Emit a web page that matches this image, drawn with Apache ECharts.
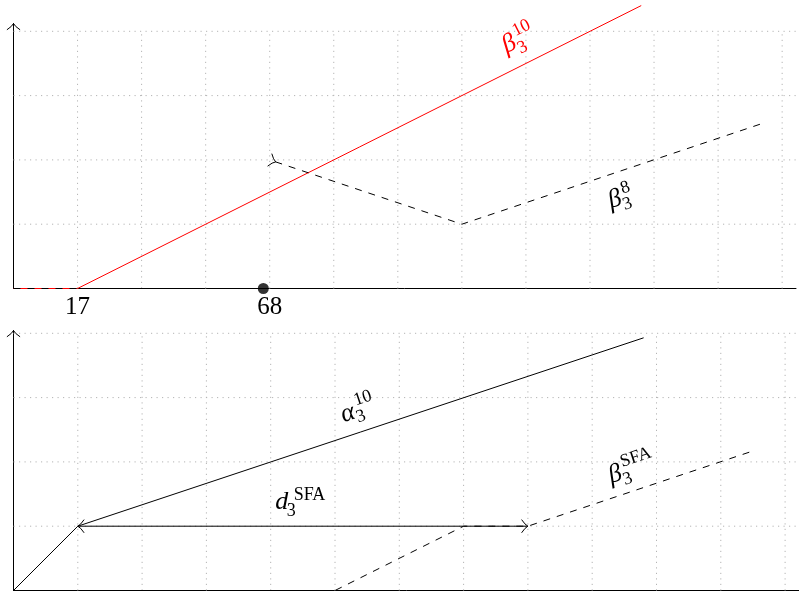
<!DOCTYPE html>
<html>
<head>
<meta charset="utf-8">
<script src="https://cdn.jsdelivr.net/npm/echarts@6/dist/echarts.min.js"></script>
<style>
  html, body { margin: 0; padding: 0; background: #ffffff; }
  #chart { width: 799px; height: 599px; }
</style>
</head>
<body>
<div id="chart"></div>
<script>
// ---- upper panel: threshold curves beta ----
const topTickValues = [1, 4];
const topTickLabels = ['17', '68'];
const beta10 = [[0, 0], [1, 0], [9.8, 4.4]];
const beta8Flat = [[0, 0], [3.9, 0]];
const beta8Rise = [[4, 2], [7, 1], [11.7, 2.57]];
const markerPoint = [[3.9, 0]];

// ---- lower panel: alpha / beta with the SFA gap ----
const alpha10 = [[0, 0], [1, 1], [9.8, 3.93]];
const dSFA = [[1, 1], [8, 1]];
const betaSFA = [[0, 0], [5, 0], [7, 1], [8, 1], [11.5, 2.17]];

// ---- background grid ----
const gridXs = [1, 2, 3, 4, 5, 6, 7, 8, 9, 10, 11, 12];
const gridYs = [1, 2, 3, 4];

// ---- curve names: [letter, superscript, subscript] ----
const nameBeta10 = ['β', '10', '3'];
const nameBeta8 = ['β', '8', '3'];
const nameAlpha10 = ['α', '10', '3'];
const nameDSFA = ['d', 'SFA', '3'];
const nameBetaSFA = ['β', 'SFA', '3'];

// ---- layout ----
const UNIT = 64.3;
const SERIF = '"Liberation Serif", "Times New Roman", serif';
const RED = '#ff0000';
const INK = '#000000';
const GRID_INK = '#b4b4b4';
const topBox = { left: 13.5, right: 0, top: 23.5, height: 265 };
const botBox = { left: 13.5, right: 0, top: 330.5, height: 260 };
const xMax = (799 - 13.5) / UNIT;
const topYMax = topBox.height / UNIT;
const botYMax = botBox.height / UNIT;

// where each name sits (data coords) and which segment it follows
const topNames = [
  { text: nameBeta10, at: [7.74, 3.8], follow: [beta10[1], beta10[2]], color: RED, supDx: 9, subDx: 6, supDy: -9, subDy: 9 },
  { text: nameBeta8, at: [9.39, 1.38], follow: [beta8Rise[1], beta8Rise[2]], color: INK, supDx: 9, subDx: 6, supDy: -8, subDy: 8 }
];
const botNames = [
  { text: nameAlpha10, at: [5.2, 2.75], follow: [alpha10[1], alpha10[2]], color: INK, supDx: 10, subDx: 7, supDy: -10, subDy: 7 },
  { text: nameDSFA, at: [4.17, 1.37], follow: null, color: INK, supDx: 12, subDx: 5, supDy: -7, subDy: 9 },
  { text: nameBetaSFA, at: [9.36, 1.8], follow: [betaSFA[3], betaSFA[4]], color: INK, supDx: 9, subDx: 6, supDy: -10, subDy: 8 }
];

function arrowHead(tip, dir, color) {
  // open "to"-style tip pointing along dir
  const L = 6.3, W = 6.6;
  const bx = -dir[0], by = -dir[1];
  const px = -dir[1], py = dir[0];
  const p1 = [tip[0] + bx * L + px * W, tip[1] + by * L + py * W];
  const p2 = [tip[0] + bx * L - px * W, tip[1] + by * L - py * W];
  const c1 = [tip[0] + bx * L * 0.45 + px * W * 0.2, tip[1] + by * L * 0.45 + py * W * 0.2];
  const c2 = [tip[0] + bx * L * 0.45 - px * W * 0.2, tip[1] + by * L * 0.45 - py * W * 0.2];
  return {
    type: 'path',
    shape: { pathData: `M${p1[0]},${p1[1]} Q${c1[0]},${c1[1]} ${tip[0]},${tip[1]} Q${c2[0]},${c2[1]} ${p2[0]},${p2[1]}` },
    style: { stroke: color, fill: 'none', lineWidth: 1 }
  };
}

function unitDir(api, a, b) {
  const pa = api.coord(a), pb = api.coord(b);
  const dx = pb[0] - pa[0], dy = pb[1] - pa[1];
  const len = Math.hypot(dx, dy);
  return [dx / len, dy / len];
}

function gridRenderer() {
  return function (params, api) {
    const children = [];
    gridXs.forEach(function (x) {
      const a = api.coord([x, 0]), b = api.coord([x, 4]);
      children.push({ type: 'line', shape: { x1: a[0], y1: a[1], x2: b[0], y2: b[1] },
        style: { stroke: GRID_INK, lineWidth: 1, lineDash: [1.2, 4.3] } });
    });
    gridYs.forEach(function (y) {
      const a = api.coord([0, y]), b = api.coord([xMax, y]);
      children.push({ type: 'line', shape: { x1: a[0], y1: a[1], x2: b[0], y2: b[1] },
        style: { stroke: GRID_INK, lineWidth: 1, lineDash: [1.2, 4.3] } });
    });
    return { type: 'group', children: children };
  };
}

function nameElement(api, spec) {
  const p = api.coord(spec.at);
  let rot = 0;
  if (spec.follow) {
    const d = unitDir(api, spec.follow[0], spec.follow[1]);
    rot = Math.atan2(-d[1], d[0]);
  }
  const mainSize = 26, scriptSize = 18;
  return {
    type: 'group', x: p[0], y: p[1], rotation: rot,
    children: [
      { type: 'text', x: 0, y: 0, style: { text: spec.text[0], fill: spec.color, fontSize: mainSize,
        fontFamily: SERIF, fontStyle: 'italic', align: 'center', verticalAlign: 'middle' } },
      { type: 'text', x: spec.supDx, y: spec.supDy, style: { text: spec.text[1], fill: spec.color, fontSize: scriptSize,
        fontFamily: SERIF, align: 'left', verticalAlign: 'middle' } },
      { type: 'text', x: spec.subDx, y: spec.subDy, style: { text: spec.text[2], fill: spec.color, fontSize: scriptSize,
        fontFamily: SERIF, align: 'left', verticalAlign: 'middle' } }
    ]
  };
}

function topDecor(params, api) {
  const children = [];
  children.push(arrowHead(api.coord([0, topYMax]), [0, -1], INK));
  // reversed tip at the start of the rising beta8 branch
  const d = unitDir(api, beta8Rise[0], beta8Rise[1]);
  const s = api.coord(beta8Rise[0]);
  children.push(arrowHead([s[0] + d[0] * 6.3, s[1] + d[1] * 6.3], d, INK));
  topNames.forEach(function (n) { children.push(nameElement(api, n)); });
  return { type: 'group', children: children };
}

function botDecor(params, api) {
  const children = [];
  children.push(arrowHead(api.coord([0, botYMax]), [0, -1], INK));
  children.push(arrowHead(api.coord(dSFA[0]), unitDir(api, dSFA[1], dSFA[0]), INK));
  children.push(arrowHead(api.coord(dSFA[1]), unitDir(api, dSFA[0], dSFA[1]), INK));
  botNames.forEach(function (n) { children.push(nameElement(api, n)); });
  return { type: 'group', children: children };
}

function lineSeries(data, axis, color, dashed, z, dashOffset) {
  return {
    type: 'line', xAxisIndex: axis, yAxisIndex: axis, data: data,
    symbol: 'none', showSymbol: false, silent: true, z: z, clip: false,
    lineStyle: { color: color, width: 1, type: dashed ? [7, 7] : 'solid', dashOffset: dashOffset || 0, cap: 'butt' }
  };
}

const axisCommon = {
  type: 'value', min: 0, interval: 1,
  axisTick: { show: false }, splitLine: { show: false },
  axisLine: { show: true, onZero: false, lineStyle: { color: INK, width: 1 } }
};

const option = {
  animation: false,
  backgroundColor: '#ffffff',
  grid: [
    { left: topBox.left, right: topBox.right, top: topBox.top, height: topBox.height },
    { left: botBox.left, right: botBox.right, top: botBox.top, height: botBox.height }
  ],
  xAxis: [
    Object.assign({}, axisCommon, { gridIndex: 0, max: xMax,
      axisLabel: { show: true, margin: 6, color: INK, fontSize: 25, fontFamily: SERIF,
        showMinLabel: true, showMaxLabel: true,
        formatter: function (v) {
          const i = topTickValues.findIndex(function (t) { return Math.abs(t - v) < 1e-6; });
          return i >= 0 ? topTickLabels[i] : '';
        } } }),
    Object.assign({}, axisCommon, { gridIndex: 1, max: xMax, axisLabel: { show: false } })
  ],
  yAxis: [
    Object.assign({}, axisCommon, { gridIndex: 0, max: topYMax, axisLabel: { show: false } }),
    Object.assign({}, axisCommon, { gridIndex: 1, max: botYMax, axisLabel: { show: false } })
  ],
  series: [
    { type: 'custom', xAxisIndex: 0, yAxisIndex: 0, data: [[0, 0]], z: 1, silent: true, renderItem: gridRenderer() },
    lineSeries(beta10, 0, RED, false, 3),
    lineSeries(beta8Flat, 0, INK, true, 4),
    lineSeries(beta8Rise, 0, INK, true, 4, 8),
    { type: 'scatter', xAxisIndex: 0, yAxisIndex: 0, data: markerPoint, symbol: 'circle', symbolSize: 11,
      itemStyle: { color: INK }, silent: true, z: 5, clip: false },
    { type: 'custom', xAxisIndex: 0, yAxisIndex: 0, data: [[0, 0]], z: 6, silent: true, renderItem: topDecor },

    { type: 'custom', xAxisIndex: 1, yAxisIndex: 1, data: [[0, 0]], z: 1, silent: true, renderItem: gridRenderer() },
    lineSeries(alpha10, 1, INK, false, 3),
    lineSeries(dSFA, 1, INK, false, 3),
    lineSeries(betaSFA, 1, INK, true, 4),
    { type: 'custom', xAxisIndex: 1, yAxisIndex: 1, data: [[0, 0]], z: 6, silent: true, renderItem: botDecor }
  ]
};

const chart = echarts.init(document.getElementById('chart'), null, { renderer: 'canvas' });
chart.setOption(option);
</script>
</body>
</html>
